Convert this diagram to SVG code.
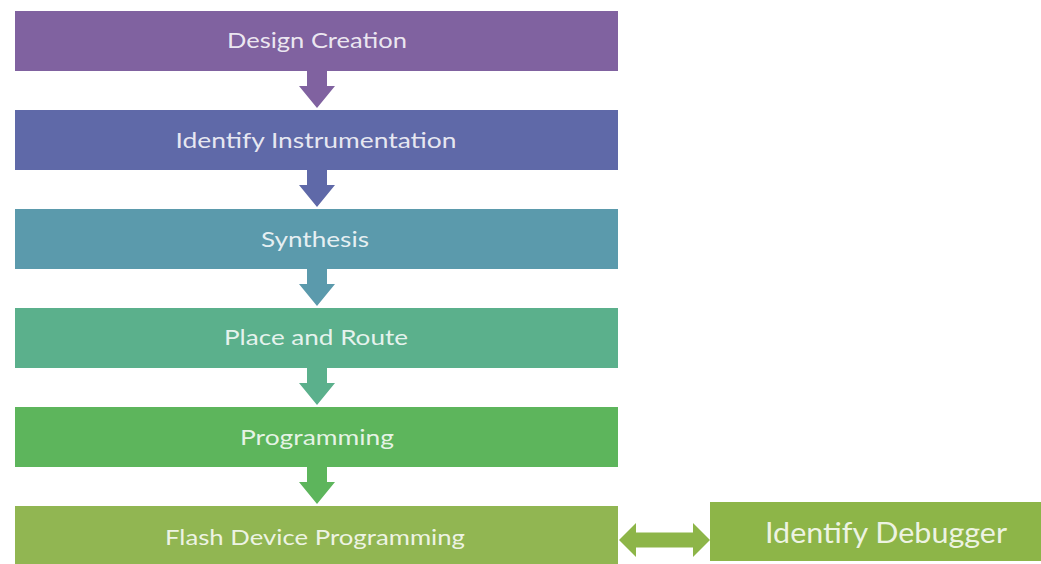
<svg xmlns="http://www.w3.org/2000/svg" width="1041" height="564" viewBox="0 0 1041 564">
  <style>
    .step { stroke: none; }
    .label { font-family: Lato, "Open Sans", "Liberation Sans", sans-serif; font-size: 22px; fill: #ffffff; fill-opacity: 0.86; text-anchor: middle; }
    .big { font-size: 28px; }
  </style>
  <rect width="1041" height="564" fill="#ffffff"/>

  <!-- flow steps -->
  <g id="design-creation">
    <rect class="step" x="15" y="11" width="603" height="60" fill="#8062a0"/>
    <text class="label" x="317" y="48" textLength="180" lengthAdjust="spacingAndGlyphs">Design Creation</text>
  </g>
  <g id="identify-instrumentation">
    <rect class="step" x="15" y="110" width="603" height="60" fill="#5f69a8"/>
    <text class="label" x="316" y="148" textLength="281" lengthAdjust="spacingAndGlyphs">Identify Instrumentation</text>
  </g>
  <g id="synthesis">
    <rect class="step" x="15" y="209" width="603" height="60" fill="#5b9aac"/>
    <text class="label" x="315" y="247" textLength="108" lengthAdjust="spacingAndGlyphs">Synthesis</text>
  </g>
  <g id="place-and-route">
    <rect class="step" x="15" y="308" width="603" height="60" fill="#5bb08c"/>
    <text class="label" x="316" y="345" textLength="184" lengthAdjust="spacingAndGlyphs">Place and Route</text>
  </g>
  <g id="programming">
    <rect class="step" x="15" y="407" width="603" height="60" fill="#5db55c"/>
    <text class="label" x="317" y="445" textLength="154" lengthAdjust="spacingAndGlyphs">Programming</text>
  </g>
  <g id="flash-device-programming">
    <rect class="step" x="15" y="506" width="603" height="62" fill="#91b652"/>
    <text class="label" x="315" y="545" textLength="300" lengthAdjust="spacingAndGlyphs">Flash Device Programming</text>
  </g>
  <g id="identify-debugger">
    <rect class="step" x="710" y="502" width="331" height="59" fill="#8db548"/>
    <text class="label big" x="886" y="543" textLength="242" lengthAdjust="spacingAndGlyphs">Identify Debugger</text>
  </g>

  <!-- block arrows between steps -->
  <g id="connectors">
    <path d="M307 71 H327 V86 H335 L317 108 L299 86 H307 Z" fill="#8062a0"/>
    <path d="M307 170 H327 V185 H335 L317 207 L299 185 H307 Z" fill="#5f69a8"/>
    <path d="M307 269 H327 V284 H335 L317 306 L299 284 H307 Z" fill="#5b9aac"/>
    <path d="M307 368 H327 V383 H335 L317 405 L299 383 H307 Z" fill="#5bb08c"/>
    <path d="M307 467 H327 V482 H335 L317 504 L299 482 H307 Z" fill="#5db55c"/>
    <path d="M619 540 L636 523 V532.5 H693 V523 L710 540 L693 557 V547.5 H636 V557 Z" fill="#8db548"/>
  </g>
</svg>
